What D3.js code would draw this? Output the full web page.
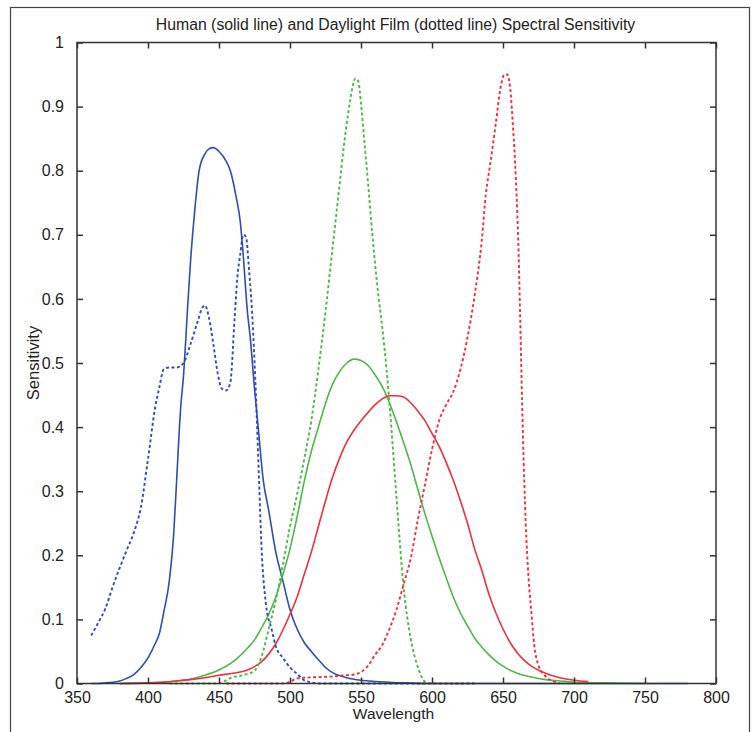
<!DOCTYPE html>
<html>
<head>
<meta charset="utf-8">
<script src="https://cdn.jsdelivr.net/npm/d3@7"></script>
<style>
  body { margin: 0; background: #fff; }
  svg text { font-family: "Liberation Sans", Arial, sans-serif; fill: #222; }
</style>
</head>
<body>
<div id="chart"></div>
<script>
// Axis ticks
var xTicks = [350, 400, 450, 500, 550, 600, 650, 700, 750, 800];
var yTicks = [0, 0.1, 0.2, 0.3, 0.4, 0.5, 0.6, 0.7, 0.8, 0.9, 1];

// Human cone sensitivity (solid lines): [wavelength, sensitivity]
var humanBlue = [[360,0],[365,0],[370,0.001],[375,0.002],[380,0.004],[385,0.008],[390,0.014],[395,0.025],
  [400,0.04],[405,0.062],[408,0.078],[411,0.11],[415,0.16],[418,0.23],[420,0.31],[423,0.43],[425,0.48],
  [428,0.59],[430,0.66],[433,0.74],[436,0.8],[440,0.826],[443,0.834],[446,0.836],[450,0.83],[455,0.815],
  [458,0.8],[462,0.76],[465,0.72],[467,0.67],[470,0.58],[472,0.54],[475,0.46],[478,0.39],[481,0.32],
  [485,0.27],[490,0.205],[495,0.16],[500,0.115],[505,0.085],[510,0.064],[515,0.05],[520,0.037],
  [525,0.025],[530,0.017],[540,0.009],[550,0.005],[560,0.003],[580,0.001],[600,0],[700,0],[780,0]];

var humanGreen = [[380,0],[400,0.001],[410,0.002],[420,0.004],[430,0.007],[440,0.013],[450,0.021],
  [460,0.034],[470,0.055],[475,0.068],[480,0.087],[485,0.108],[490,0.135],[495,0.17],[500,0.21],
  [505,0.26],[510,0.315],[515,0.362],[520,0.4],[525,0.437],[530,0.467],[535,0.487],[540,0.5],
  [545,0.506],[550,0.504],[555,0.496],[560,0.481],[565,0.463],[570,0.438],[575,0.408],[580,0.376],
  [585,0.342],[590,0.303],[595,0.265],[600,0.23],[605,0.196],[610,0.165],[615,0.135],[620,0.11],
  [625,0.09],[630,0.071],[635,0.057],[640,0.045],[645,0.035],[650,0.027],[660,0.016],[670,0.01],
  [680,0.006],[690,0.004],[700,0.002],[720,0.001],[750,0]];

var humanRed = [[380,0],[400,0.001],[420,0.004],[430,0.006],[440,0.009],[450,0.013],[460,0.016],
  [470,0.021],[480,0.034],[490,0.062],[500,0.108],[505,0.135],[510,0.17],[515,0.205],[520,0.245],
  [525,0.285],[530,0.322],[535,0.352],[540,0.377],[545,0.395],[550,0.41],[555,0.423],[560,0.435],
  [565,0.444],[570,0.449],[575,0.449],[580,0.447],[585,0.438],[590,0.425],[595,0.41],[600,0.39],
  [605,0.37],[610,0.345],[615,0.317],[620,0.285],[625,0.25],[630,0.21],[635,0.177],[640,0.14],
  [645,0.11],[650,0.085],[655,0.064],[660,0.048],[665,0.036],[670,0.027],[680,0.016],[690,0.009],
  [700,0.005],[710,0.003]];

// Daylight film sensitivity (dotted lines)
var filmBlue = [[360,0.075],[365,0.095],[370,0.117],[375,0.15],[380,0.18],[385,0.208],[390,0.235],
  [395,0.275],[400,0.35],[405,0.43],[408,0.462],[411,0.49],[415,0.493],[420,0.493],[425,0.5],
  [430,0.53],[435,0.565],[438,0.585],[440,0.59],[443,0.57],[446,0.53],[449,0.485],[452,0.46],
  [455,0.457],[458,0.47],[461,0.57],[463,0.635],[465,0.67],[467,0.7],[469,0.697],[471,0.65],
  [474,0.55],[476,0.45],[478,0.33],[480,0.21],[483,0.125],[487,0.085],[490,0.058],[495,0.04],
  [500,0.025],[505,0.015],[510,0.005],[515,0.002],[520,0],[630,0]];

var filmGreen = [[415,0],[450,0],[455,0.005],[460,0.01],[465,0.012],[470,0.015],[475,0.02],
  [480,0.042],[485,0.085],[490,0.13],[495,0.185],[500,0.245],[505,0.295],[510,0.35],[515,0.41],
  [520,0.49],[525,0.58],[530,0.68],[535,0.78],[538,0.84],[541,0.89],[544,0.93],[546,0.944],
  [548,0.94],[550,0.905],[552,0.855],[555,0.78],[558,0.7],[562,0.61],[565,0.555],[568,0.49],
  [571,0.41],[575,0.29],[580,0.15],[585,0.07],[590,0.026],[595,0.003],[600,0]];

var filmRed = [[455,0],[495,0],[500,0.003],[505,0.008],[510,0.009],[520,0.01],[530,0.011],
  [540,0.013],[545,0.014],[550,0.018],[555,0.028],[560,0.045],[565,0.06],[570,0.085],[575,0.115],
  [580,0.155],[585,0.195],[590,0.255],[595,0.31],[600,0.365],[605,0.41],[610,0.435],[615,0.455],
  [620,0.49],[625,0.54],[630,0.605],[635,0.69],[638,0.765],[641,0.81],[645,0.875],[648,0.926],
  [651,0.95],[653,0.95],[655,0.93],[657,0.87],[659,0.79],[661,0.67],[662,0.58],[664,0.39],
  [666,0.25],[668,0.165],[670,0.11],[672,0.06],[675,0.028],[680,0.011],[686,0.003],[690,0]];

var seriesColors = { blue: '#2e4db3', green: '#4db846', red: '#ef2f3c' };

(function() {
  var width = 756, height = 732;
  var plotLeft = 77, plotRight = 716, plotTop = 42.5, plotBottom = 683.5;

  var svg = d3.select('#chart').append('svg')
    .attr('width', width).attr('height', height);

  // outer frame of the figure
  svg.append('rect')
    .attr('x', 10.5).attr('y', 7.5)
    .attr('width', 739).attr('height', 740)
    .attr('fill', 'none').attr('stroke', '#444').attr('stroke-width', 1.2);

  var x = d3.scaleLinear().domain([350, 800]).range([plotLeft, plotRight]);
  var y = d3.scaleLinear().domain([0, 1]).range([plotBottom, plotTop]);

  var line = d3.line()
    .curve(d3.curveMonotoneX)
    .x(function(d) { return x(d[0]); })
    .y(function(d) { return y(d[1]); });

  var g = svg.append('g');

  // solid human curves
  [[humanBlue, 'blue'], [humanGreen, 'green'], [humanRed, 'red']].forEach(function(s) {
    g.append('path')
     .attr('d', line(s[0]))
     .attr('fill', 'none')
     .attr('stroke', seriesColors[s[1]])
     .attr('stroke-width', 1.6)
     .attr('stroke-linejoin', 'round');
  });

  // dotted film curves
  [[filmBlue, 'blue'], [filmGreen, 'green'], [filmRed, 'red']].forEach(function(s) {
    g.append('path')
     .attr('d', line(s[0]))
     .attr('fill', 'none')
     .attr('stroke', seriesColors[s[1]])
     .attr('stroke-width', 1.9)
     .attr('stroke-dasharray', '3,2.5');
  });

  // axes, ticks pointing inward on all four sides
  var axisColor = '#333';
  var xBottom = d3.axisBottom(x).tickValues(xTicks).tickSizeInner(-6).tickSizeOuter(0).tickPadding(8)
    .tickFormat(d3.format('d'));
  var xTop = d3.axisTop(x).tickValues(xTicks).tickSizeInner(-6).tickSizeOuter(0).tickFormat('');
  var yLeft = d3.axisLeft(y).tickValues(yTicks).tickSizeInner(-6).tickSizeOuter(0).tickPadding(13)
    .tickFormat(function(d) { return d3.format('~g')(d); });
  var yRight = d3.axisRight(y).tickValues(yTicks).tickSizeInner(-6).tickSizeOuter(0).tickFormat('');

  function styleAxis(sel) {
    sel.select('.domain').remove();
    sel.selectAll('line').attr('stroke', axisColor).attr('stroke-width', 1.5);
    sel.selectAll('text').attr('font-size', 16).attr('fill', '#222')
       .style('font-family', '"Liberation Sans", Arial, sans-serif');
  }

  svg.append('g').attr('transform', 'translate(0,' + plotBottom + ')').call(xBottom).call(styleAxis);
  svg.append('g').attr('transform', 'translate(0,' + plotTop + ')').call(xTop).call(styleAxis);
  svg.append('g').attr('transform', 'translate(' + plotLeft + ',0)').call(yLeft).call(styleAxis);
  svg.append('g').attr('transform', 'translate(' + plotRight + ',0)').call(yRight).call(styleAxis);

  svg.append('rect')
    .attr('x', plotLeft).attr('y', plotTop)
    .attr('width', plotRight - plotLeft).attr('height', plotBottom - plotTop)
    .attr('fill', 'none').attr('stroke', axisColor).attr('stroke-width', 1.5);

  // labels
  svg.append('text')
    .attr('x', (plotLeft + plotRight) / 2 - 1).attr('y', 30)
    .attr('text-anchor', 'middle').attr('font-size', 15.8)
    .text('Human (solid line) and Daylight Film (dotted line) Spectral Sensitivity');

  svg.append('text')
    .attr('x', (plotLeft + plotRight) / 2 - 3).attr('y', 719)
    .attr('text-anchor', 'middle').attr('font-size', 15.5)
    .text('Wavelength');

  svg.append('text')
    .attr('transform', 'translate(39,' + ((plotTop + plotBottom) / 2) + ') rotate(-90)')
    .attr('text-anchor', 'middle').attr('font-size', 16.5)
    .text('Sensitivity');
})();
</script>
</body>
</html>
